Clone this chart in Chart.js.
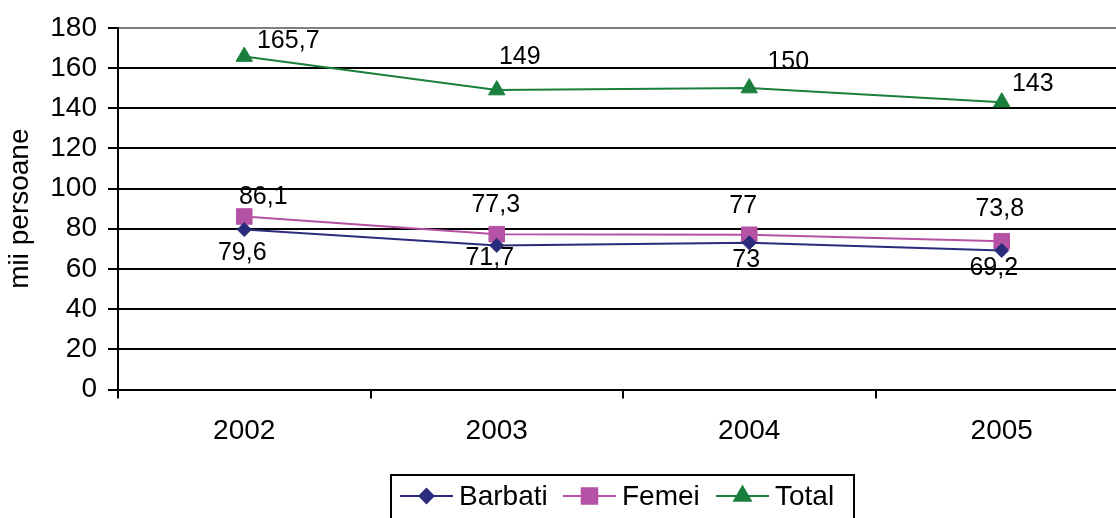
<!doctype html>
<html lang="ro">
<head>
  <meta charset="utf-8">
  <title>mii persoane 2002-2005</title>
  <style>
    body { margin: 0; overflow: hidden; background: #fff; }
  </style>
</head>
<body>
  <canvas id="chart" width="1140" height="518"></canvas>

  <script src="https://cdn.jsdelivr.net/npm/chart.js@4/dist/chart.umd.min.js"></script>
  <script>
  const years = ['2002', '2003', '2004', '2005'];
  const barbati = [79.6, 71.7, 73, 69.2];
  const femei = [86.1, 77.3, 77, 73.8];
  const total = [165.7, 149, 150, 143];
  const yMin = 0, yMax = 180, yStep = 20;

  const FONT = "'Liberation Sans', Arial, sans-serif";

  // label nudges, as placed in the original (dx, dy from the point)
  const shiftBarbati = [[-2, 24], [-7, 13], [-3, 17], [-8, 18]];
  const shiftFemei = [[19, -19], [-1, -29], [-6, -29], [-2, -32]];
  const shiftTotal = [[44, -15], [23, -33], [39, -26], [31, -18]];

  const pointLabels = {
    id: 'pointLabels',
    afterDatasetsDraw(chart) {
      let ctx = chart.ctx;
      ctx.save();
      ctx.font = '25px ' + FONT;
      ctx.fillStyle = '#000';
      ctx.textAlign = 'center';
      ctx.textBaseline = 'middle';
      chart.data.datasets.forEach((ds, i) => {
        chart.getDatasetMeta(i).data.forEach((pt, j) => {
          let s = ds.labelShift[j];
          ctx.fillText(String(ds.data[j]).replace('.', ','), pt.x + s[0], pt.y + s[1]);
        });
      });
      ctx.restore();
    }
  };

  const boxLegend = {
    id: 'boxLegend',
    afterDraw(chart) {
      let ctx = chart.ctx;
      ctx.save();
      ctx.strokeStyle = '#000';
      ctx.lineWidth = 2;
      ctx.strokeRect(391, 475, 463, 60);
      let starts = [400, 563, 716];
      let y = 496;
      ctx.font = '28px ' + FONT;
      ctx.textBaseline = 'middle';
      ctx.textAlign = 'left';
      chart.data.datasets.forEach((ds, i) => {
        let x = starts[i];
        ctx.strokeStyle = ds.borderColor;
        ctx.lineWidth = 2;
        ctx.beginPath();
        ctx.moveTo(x, y);
        ctx.lineTo(x + 53, y);
        ctx.stroke();
        ctx.fillStyle = ds.borderColor;
        Chart.helpers.drawPoint(ctx, {
          pointStyle: ds.pointStyle, radius: ds.pointRadius, rotation: 0, borderWidth: 1
        }, x + 26.5, y);
        ctx.fillStyle = '#000';
        ctx.fillText(ds.label, x + 59, y + 1);
      });
      ctx.restore();
    }
  };

  function makeSeries(label, data, color, style, radius, shift) {
    return {
      label: label,
      data: data,
      borderColor: color,
      backgroundColor: color,
      borderWidth: 2,
      pointStyle: style,
      pointRadius: radius,
      pointHoverRadius: radius,
      pointBackgroundColor: color,
      pointBorderColor: color,
      pointBorderWidth: 1,
      tension: 0,
      labelShift: shift,
    };
  }

  new Chart(document.getElementById('chart'), {
    type: 'line',
    data: {
      labels: years,
      datasets: [
        makeSeries('Barbati', barbati, '#2B2B7C', 'rectRot', 7, shiftBarbati),
        makeSeries('Femei', femei, '#B552A5', 'rect', 11, shiftFemei),
        makeSeries('Total', total, '#1A7F3C', 'triangle', 9.5, shiftTotal),
      ],
    },
    options: {
      responsive: false,
      animation: false,
      events: [],
      layout: { padding: { top: 26, left: 0, right: 2, bottom: 0 } },
      plugins: {
        legend: { display: false },
        tooltip: { enabled: false },
      },
      scales: {
        x: {
          offset: true,
          afterFit(scale) { scale.height = 128.5; },
          grid: {
            offset: true,
            drawOnChartArea: false,
            drawTicks: true,
            tickLength: 9,
            color: '#000',
            lineWidth: 2,
          },
          border: { color: '#000', width: 2 },
          ticks: { color: '#000', font: { family: FONT, size: 28 }, padding: 16, maxRotation: 0 },
        },
        y: {
          min: yMin,
          max: yMax,
          afterFit(scale) { scale.width = 118; },
          ticks: { stepSize: yStep, color: '#000', font: { family: FONT, size: 28 }, padding: 11 },
          grid: {
            color: c => (c.tick && c.tick.value === yMax) ? '#808080' : '#000',
            tickColor: '#000',
            lineWidth: 2,
            tickLength: 10,
          },
          border: { color: '#000', width: 2 },
          title: {
            display: true,
            text: 'mii persoane',
            color: '#000',
            font: { family: FONT, size: 28 },
            padding: { top: 3, bottom: 0 },
          },
        },
      },
    },
    plugins: [pointLabels, boxLegend],
  });
  </script>
</body>
</html>
